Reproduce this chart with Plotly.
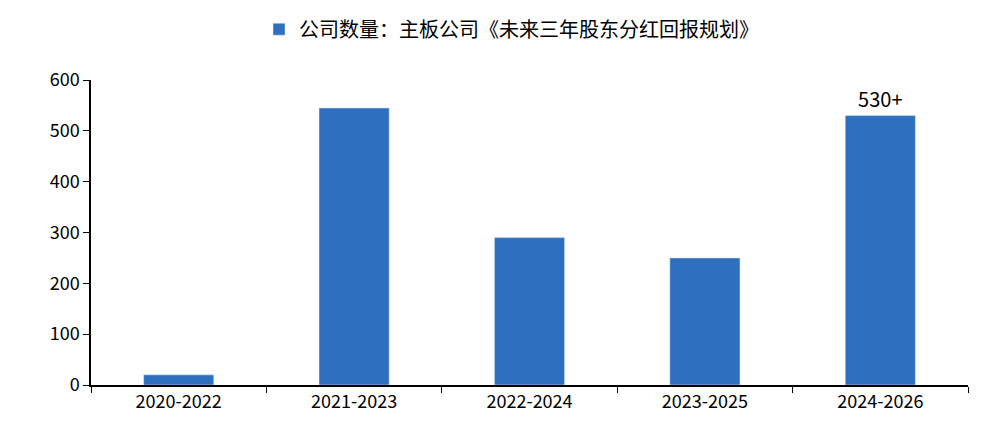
import plotly.graph_objects as go

categories = ["2020-2022", "2021-2023", "2022-2024", "2023-2025", "2024-2026"]
values = [20, 545, 290, 250, 530]
labels = ["", "", "", "", "530+"]
series_name = "公司数量：主板公司《未来三年股东分红回报规划》"

fig = go.Figure(go.Bar(
    x=categories, y=values, name=series_name, marker_color="#2E6FBF",
    text=labels, textposition="outside", textfont=dict(size=20, color="black"),
    width=0.4, cliponaxis=False, showlegend=True))

fig.update_layout(
    width=1007, height=424, plot_bgcolor="white", paper_bgcolor="white",
    margin=dict(l=83, r=47, t=72, b=47),
    font=dict(family="Noto Sans CJK SC, Noto Sans", size=18, color="black"),
    legend=dict(orientation="h", x=0.5, xanchor="center", xref="container",
                y=0.95, yanchor="middle", yref="container",
                font=dict(size=20), itemwidth=30),
    xaxis=dict(showline=True, linecolor="black", linewidth=1.5, ticks="outside",
               tickson="boundaries", ticklen=6, tickcolor="black"),
    yaxis=dict(range=[0, 600], dtick=100, showline=True, linecolor="black", linewidth=1.5,
               ticks="outside", ticklen=6, tickcolor="black", showgrid=False, zeroline=False),
)
fig.write_html("out.html")
